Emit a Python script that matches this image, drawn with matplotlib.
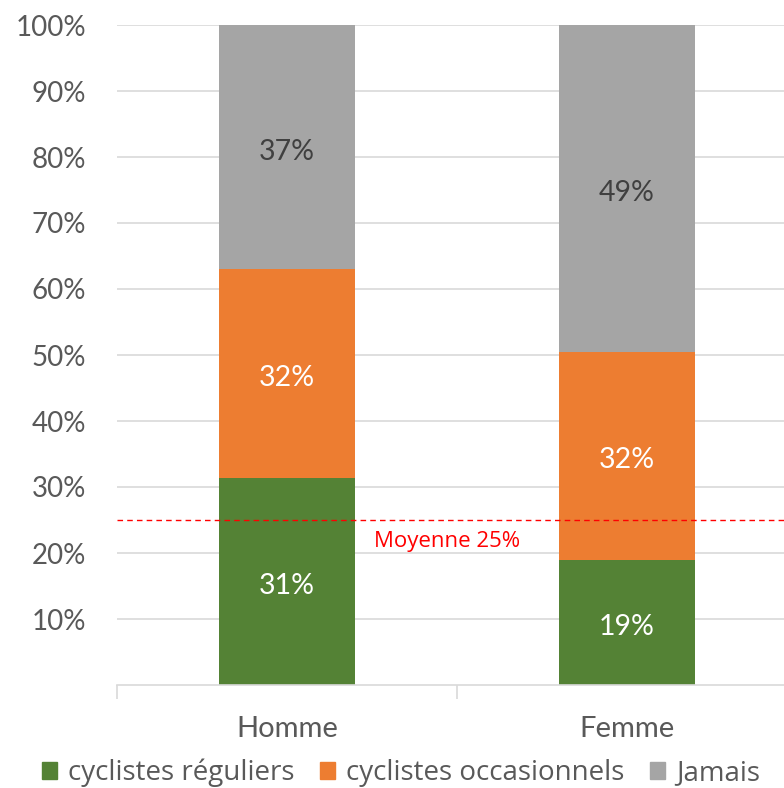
import matplotlib.pyplot as plt
from matplotlib.patches import Patch

categories = ['Homme', 'Femme']
reguliers = [31.3, 19.0]
occasionnels = [31.7, 31.5]
jamais = [37.0, 49.5]
labels_reg = ['31%', '19%']
labels_occ = ['32%', '32%']
labels_jam = ['37%', '49%']
moyenne = 25
series_names = ['cyclistes réguliers', 'cyclistes occasionnels', 'Jamais']

green = '#548235'
orange = '#ED7D31'
gray = '#A5A5A5'
tick_color = '#595959'

fig = plt.figure(figsize=(7.84, 7.88), dpi=100)
ax = fig.add_axes([117 / 784, 1 - 685 / 788, 680 / 784, 660 / 788])

x = list(range(len(categories)))
w = 0.4
b1 = ax.bar(x, reguliers, w, color=green, zorder=2)
bottom2 = reguliers
b2 = ax.bar(x, occasionnels, w, bottom=bottom2, color=orange, zorder=2)
bottom3 = [a + b for a, b in zip(reguliers, occasionnels)]
b3 = ax.bar(x, jamais, w, bottom=bottom3, color=gray, zorder=2)

font = 'Lato'
fs = 20.5
dy = -0.7  # petit décalage vertical des étiquettes
for i in x:
    ax.text(i, reguliers[i] / 2 + dy, labels_reg[i], ha='center', va='center',
            color='white', fontsize=fs, family=font, zorder=4)
    ax.text(i, bottom2[i] + occasionnels[i] / 2 + dy, labels_occ[i], ha='center',
            va='center', color='white', fontsize=fs, family=font, zorder=4)
    ax.text(i, bottom3[i] + jamais[i] / 2 + dy, labels_jam[i], ha='center', va='center',
            color='#404040', fontsize=fs, family=font, zorder=4)

# ligne de moyenne
ax.axhline(moyenne, color='red', linestyle=(0, (4, 3)), linewidth=1, zorder=3)
ax.text(0.47, moyenne - 3.2, 'Moyenne 25%', color='red', ha='center', va='center',
        fontsize=16, family='Open Sans', zorder=4)

ax.set_xlim(-0.5, 1.5)
ax.set_ylim(0, 100)
ax.set_yticks(range(10, 101, 10))
ax.set_yticklabels([f'{v}%' for v in range(10, 101, 10)], family=font,
                   fontsize=20, color=tick_color)
ax.tick_params(axis='y', length=0, pad=22)
ax.yaxis.grid(True, color='#D9D9D9', linewidth=1.2, zorder=0)
ax.set_axisbelow(True)

ax.set_xticks(x)
ax.set_xticklabels(categories, family=font, fontsize=21, color=tick_color)
ax.tick_params(axis='x', length=0, pad=22)
ax.set_xticks([-0.5, 0.5, 1.5], minor=True)
ax.tick_params(axis='x', which='minor', length=10, color='#D9D9D9', width=1.2)

for s in ['top', 'right', 'left']:
    ax.spines[s].set_visible(False)
ax.spines['bottom'].set_color('#D9D9D9')
ax.spines['bottom'].set_linewidth(1.2)

handles = [Patch(color=green), Patch(color=orange), Patch(color=gray)]
fig.legend(handles, series_names, loc='center left',
           bbox_to_anchor=(42 / 784, 1 - 773 / 788), ncol=3, frameon=False,
           handlelength=0.55, handleheight=0.55, handletextpad=0.4, columnspacing=0.9,
           prop={'family': 'Open Sans', 'size': 20}, labelcolor=tick_color,
           borderpad=0, borderaxespad=0)

fig.savefig('out.png', dpi=100)
